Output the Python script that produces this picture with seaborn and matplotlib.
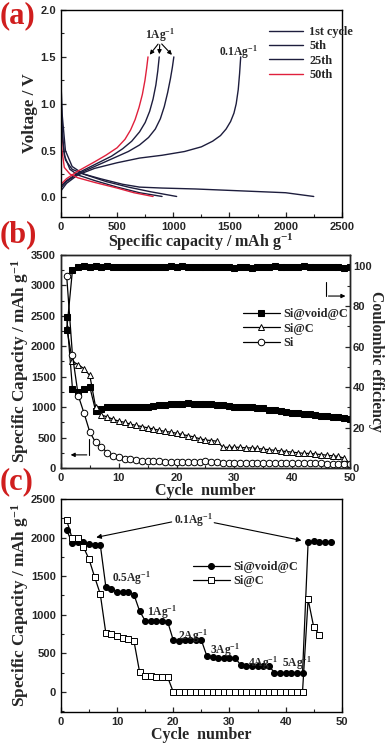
import numpy as np
import pandas as pd
import seaborn as sns
import matplotlib
matplotlib.use("Agg")
import matplotlib.pyplot as plt
from matplotlib.ticker import AutoMinorLocator, MultipleLocator, FormatStrFormatter

# ---------------- panel (a): charge / discharge profiles ----------------
c1_dis_cap = [0, 5, 15, 40, 100, 200, 350, 450, 550, 700, 900, 1200, 1600, 2000, 2250]
c1_dis_v = [1.45, 1.0, 0.6, 0.4, 0.3, 0.25, 0.2, 0.17, 0.14, 0.11, 0.10, 0.09, 0.07, 0.05, 0.01]
c1_chg_cap = [0, 50, 150, 300, 500, 700, 900, 1100, 1250, 1350, 1420, 1470, 1510, 1540, 1560, 1578, 1590, 1600]
c1_chg_v = [0.07, 0.15, 0.24, 0.31, 0.37, 0.42, 0.45, 0.49, 0.54, 0.60, 0.66, 0.73, 0.81, 0.90, 1.0, 1.15, 1.32, 1.50]

c5_dis_cap = [0, 10, 40, 100, 200, 400, 600, 800, 1030]
c5_dis_v = [1.25, 0.9, 0.5, 0.33, 0.25, 0.17, 0.11, 0.06, 0.01]
c5_chg_cap = [0, 50, 150, 300, 450, 600, 700, 780, 840, 885, 920, 950, 975, 992, 1005]
c5_chg_v = [0.10, 0.17, 0.25, 0.33, 0.41, 0.49, 0.56, 0.64, 0.73, 0.84, 0.97, 1.12, 1.27, 1.39, 1.50]

c25_dis_cap = [0, 10, 30, 80, 150, 300, 500, 700, 900]
c25_dis_v = [1.05, 0.75, 0.45, 0.30, 0.24, 0.18, 0.11, 0.05, 0.01]
c25_chg_cap = [0, 50, 150, 300, 450, 550, 630, 700, 750, 790, 820, 845, 862, 875]
c25_chg_v = [0.12, 0.18, 0.26, 0.35, 0.44, 0.52, 0.60, 0.70, 0.80, 0.92, 1.05, 1.20, 1.35, 1.50]

c50_dis_cap = [0, 10, 30, 80, 150, 300, 500, 650, 820]
c50_dis_v = [0.72, 0.5, 0.32, 0.25, 0.21, 0.16, 0.10, 0.05, 0.01]
c50_chg_cap = [0, 50, 150, 300, 400, 500, 570, 620, 660, 695, 725, 748, 763, 775]
c50_chg_v = [0.14, 0.20, 0.28, 0.38, 0.45, 0.53, 0.62, 0.72, 0.83, 0.96, 1.10, 1.25, 1.38, 1.50]

# ---------------- panel (b): cycling at 1 A/g ----------------
cycles_b = list(range(1, 51))
void_cap = [2480, 1300, 1250, 1290, 1330, 940, 970, 1000, 1000, 1010,
            1010, 1010, 1000, 1010, 1010, 1020, 1030, 1040, 1050, 1050,
            1050, 1060, 1050, 1050, 1050, 1050, 1040, 1030, 1020, 1010,
            1010, 1000, 1000, 990, 980, 960, 950, 940, 920, 910,
            900, 890, 880, 870, 860, 850, 840, 830, 820, 810]
sic_cap = [2300, 1750, 1700, 1630, 1520, 1000, 870, 840, 800, 770,
           750, 720, 700, 680, 660, 640, 620, 600, 590, 570,
           550, 530, 510, 480, 460, 450, 440, 340, 340, 340,
           340, 330, 330, 320, 310, 300, 290, 280, 270, 260,
           250, 240, 240, 230, 220, 210, 200, 190, 160, 70]
si_cap = [3150, 1850, 1190, 900, 590, 420, 350, 250, 200, 175,
          155, 140, 130, 120, 115, 110, 108, 105, 100, 100,
          98, 95, 95, 93, 115, 95, 90, 88, 86, 85,
          84, 83, 82, 82, 81, 80, 80, 79, 78, 78,
          77, 76, 76, 75, 74, 73, 72, 72, 71, 70]
void_ce = [68, 98, 99.5, 99.8, 99.6, 99.9, 99.4, 99.7, 99.5, 99.2,
           99.6, 99.4, 99.3, 99.5, 99.2, 99.4, 99.6, 99.5, 99.8, 99.6,
           99.7, 99.3, 99.5, 99.2, 99.6, 99.4, 99.5, 99.2, 99.3, 99.1,
           99.2, 99.4, 99.0, 99.3, 99.6, 99.5, 99.7, 99.4, 99.6, 99.3,
           99.5, 99.7, 99.4, 99.6, 99.2, 99.5, 99.3, 99.4, 99.1, 99.2]

# ---------------- panel (c): rate capability ----------------
cycles_c_void = list(range(1, 49))
rate_void = [2100, 1930, 1940, 1940, 1920, 1910, 1910,
             1360, 1330, 1300, 1300, 1300, 1260,
             1050, 920, 920, 920, 920, 910,
             670, 660, 670, 670, 670, 670,
             460, 450, 440, 440, 440, 440,
             350, 340, 340, 340, 340, 340,
             250, 250, 250, 250, 250, 240,
             1940, 1950, 1940, 1940, 1940]
cycles_c_sic = list(range(1, 47))
rate_sic = [2230, 1990, 1990, 1880, 1720, 1490, 1270,
            760, 750, 720, 700, 690, 660,
            260, 210, 200, 195, 195, 190,
            0, 0, 0, 0, 0, 0, 0, 0, 0, 0, 0, 0,
            0, 0, 0, 0, 0, 0, 0, 0, 0, 0, 0, 0,
            1200, 840, 740]
rate_labels = ["0.5Ag$^{-1}$", "1Ag$^{-1}$", "2Ag$^{-1}$", "3Ag$^{-1}$", "4Ag$^{-1}$", "5Ag$^{-1}$"]
rate_label_x = [12.6, 18.0, 23.5, 29.2, 36.0, 42.0]
rate_label_y = [1480, 1030, 720, 545, 370, 370]

NAVY = "#1d1d3d"
RED = "#e0203c"
SERIF = "Liberation Serif"

sns.set_style("ticks")
plt.rcParams["font.family"] = ["Liberation Sans", "DejaVu Sans"]
plt.rcParams["font.weight"] = "bold"
plt.rcParams["mathtext.fontset"] = "custom"
plt.rcParams["mathtext.rm"] = "Liberation Serif:bold"
plt.rcParams["mathtext.it"] = "Liberation Serif:bold"
plt.rcParams["mathtext.bf"] = "Liberation Serif:bold"
plt.rcParams["xtick.direction"] = "in"
plt.rcParams["ytick.direction"] = "in"
plt.rcParams["axes.linewidth"] = 1.0

xlab_font = dict(family=SERIF, weight="bold", size=11.5)
ylab_font = dict(family=SERIF, weight="bold", size=12.3)
leg_font = dict(family=SERIF, weight="bold", size=8.8)
ann_font = dict(family=SERIF, weight="bold", size=8.3)


def style_axis(ax):
    ax.xaxis.set_minor_locator(AutoMinorLocator(2))
    ax.yaxis.set_minor_locator(AutoMinorLocator(2))
    ax.tick_params(which="major", length=3.5, width=0.9, labelsize=8)
    ax.tick_params(which="minor", length=2, width=0.8)
    for s in ax.spines.values():
        s.set_visible(True)
        s.set_color("black")


fig = plt.figure(figsize=(3.88, 7.46), dpi=100)
ax_a = fig.add_axes([0.157, 0.709, 0.724, 0.2775])
ax_b = fig.add_axes([0.157, 0.3727, 0.745, 0.2855])
ax_c = fig.add_axes([0.157, 0.0456, 0.724, 0.2855])

# ---- (a)
curves = [
    ("1st cycle", c1_dis_cap, c1_dis_v, c1_chg_cap, c1_chg_v, NAVY),
    ("5th", c5_dis_cap, c5_dis_v, c5_chg_cap, c5_chg_v, NAVY),
    ("25th", c25_dis_cap, c25_dis_v, c25_chg_cap, c25_chg_v, NAVY),
    ("50th", c50_dis_cap, c50_dis_v, c50_chg_cap, c50_chg_v, RED),
]
for name, dx, dy, cx, cy, col in curves:
    sns.lineplot(x=dx, y=dy, ax=ax_a, color=col, lw=1.0, sort=False, estimator=None, label=name)
    sns.lineplot(x=cx, y=cy, ax=ax_a, color=col, lw=1.0, sort=False, estimator=None)
ax_a.set_xlim(0, 2500)
ax_a.set_ylim(-0.21, 2.0)
ax_a.xaxis.set_major_locator(MultipleLocator(500))
ax_a.yaxis.set_major_locator(MultipleLocator(0.5))
ax_a.yaxis.set_major_formatter(FormatStrFormatter("%.1f"))
style_axis(ax_a)
ax_a.set_xlabel("Specific capacity / mAh g$^{-1}$", fontdict=xlab_font, labelpad=0)
ax_a.set_ylabel("Voltage / V", fontdict=ylab_font, labelpad=2)
ax_a.legend(loc="upper left", bbox_to_anchor=(0.71, 0.965), frameon=False, prop=leg_font,
            handlelength=2.8, handletextpad=0.5, labelspacing=0.2, borderpad=0.2)
ax_a.text(880, 1.73, "1Ag$^{-1}$", ha="center", va="center", **ann_font)
for tx in [c50_chg_cap[-1], c25_chg_cap[-1], c5_chg_cap[-1]]:
    ax_a.annotate("", xy=(tx, 1.5), xytext=(880, 1.66),
                  arrowprops=dict(arrowstyle="-|>", color="black", lw=0.8, mutation_scale=6))
ax_a.text(1575, 1.55, "0.1Ag$^{-1}$", ha="center", va="center", **ann_font)

# ---- (b)
ax_b2 = ax_b.twinx()
sns.lineplot(x=cycles_b, y=void_cap, ax=ax_b, color="black", lw=0.9, marker="s", markersize=4.3,
             markeredgecolor="black", markerfacecolor="black", label="Si@void@C")
sns.lineplot(x=cycles_b, y=sic_cap, ax=ax_b, color="black", lw=0.9, marker="^", markersize=4.5,
             markeredgecolor="black", markerfacecolor="white", markeredgewidth=0.7, label="Si@C")
sns.lineplot(x=cycles_b, y=si_cap, ax=ax_b, color="black", lw=0.9, marker="o", markersize=4.7,
             markeredgecolor="black", markerfacecolor="white", markeredgewidth=0.7, label="Si")
sns.lineplot(x=cycles_b, y=void_ce, ax=ax_b2, color="black", lw=0.9, marker="s", markersize=4.3,
             markeredgecolor="black", markerfacecolor="black")
ax_b.set_xlim(0, 50)
ax_b.set_ylim(0, 3500)
ax_b2.set_ylim(0, 105.3)
ax_b.xaxis.set_major_locator(MultipleLocator(10))
ax_b.yaxis.set_major_locator(MultipleLocator(500))
ax_b2.yaxis.set_major_locator(MultipleLocator(20))
style_axis(ax_b)
ax_b2.yaxis.set_minor_locator(AutoMinorLocator(2))
ax_b2.tick_params(which="major", length=3.5, width=0.9, labelsize=8, pad=2)
ax_b2.tick_params(which="minor", length=2, width=0.8)
ax_b.set_xlabel("Cycle  number", fontdict=xlab_font, labelpad=0)
ax_b.set_ylabel("Specific Capacity / mAh g$^{-1}$", fontdict=ylab_font, labelpad=0)
ax_b2.set_ylabel("Coulombic efficiency", family=SERIF, weight="bold", size=11.3,
                 rotation=270, labelpad=9)
ax_b.legend(loc="upper left", bbox_to_anchor=(0.6, 0.79), frameon=False, prop=leg_font,
            handlelength=3.0, handletextpad=0.3, labelspacing=0.2, borderpad=0.2)
# pointer arrows: which axis each series belongs to
ax_b2.plot([45.9, 45.9], [92, 85], color="black", lw=0.8)
ax_b2.annotate("", xy=(49.7, 85), xytext=(45.8, 85),
               arrowprops=dict(arrowstyle="-|>", color="black", lw=0.8, mutation_scale=6))
ax_b.plot([4.9, 4.9], [470, 215], color="black", lw=0.8)
ax_b.annotate("", xy=(1.2, 215), xytext=(4.95, 215),
              arrowprops=dict(arrowstyle="-|>", color="black", lw=0.8, mutation_scale=6))

# ---- (c)
sns.lineplot(x=cycles_c_void, y=rate_void, ax=ax_c, color="black", lw=0.9, marker="o", markersize=4.3,
             markeredgecolor="black", markerfacecolor="black", label="Si@void@C")
sns.lineplot(x=cycles_c_sic, y=rate_sic, ax=ax_c, color="black", lw=0.9, marker="s", markersize=4.5,
             markeredgecolor="black", markerfacecolor="white", markeredgewidth=0.7, label="Si@C")
ax_c.set_xlim(0, 50)
ax_c.set_ylim(-260, 2500)
ax_c.xaxis.set_major_locator(MultipleLocator(10))
ax_c.yaxis.set_major_locator(MultipleLocator(500))
style_axis(ax_c)
ax_c.set_xlabel("Cycle  number", fontdict=xlab_font, labelpad=0)
ax_c.set_ylabel("Specific Capacity / mAh g$^{-1}$", fontdict=ylab_font, labelpad=0)
ax_c.legend(loc="upper left", bbox_to_anchor=(0.44, 0.75), frameon=False, prop=leg_font,
            handlelength=3.0, handletextpad=0.3, labelspacing=0.2, borderpad=0.2)
ax_c.text(23.5, 2220, "0.1Ag$^{-1}$", ha="center", va="center", **ann_font)
ax_c.annotate("", xy=(5.8, 1995), xytext=(20.2, 2210),
              arrowprops=dict(arrowstyle="-|>", color="black", lw=0.8, mutation_scale=7))
ax_c.annotate("", xy=(43.3, 1955), xytext=(26.8, 2200),
              arrowprops=dict(arrowstyle="-|>", color="black", lw=0.8, mutation_scale=7))
for lbl, lx, ly in zip(rate_labels, rate_label_x, rate_label_y):
    ax_c.text(lx, ly, lbl, ha="center", va="center", **ann_font)

# panel letters
for letter, ypos in [("(a)", 0.999), ("(b)", 0.705), ("(c)", 0.374)]:
    fig.text(0.0, ypos, letter, ha="left", va="top", color="#d01e1e",
             family=SERIF, weight="bold", size=22)

fig.savefig("out.png", dpi=100)
